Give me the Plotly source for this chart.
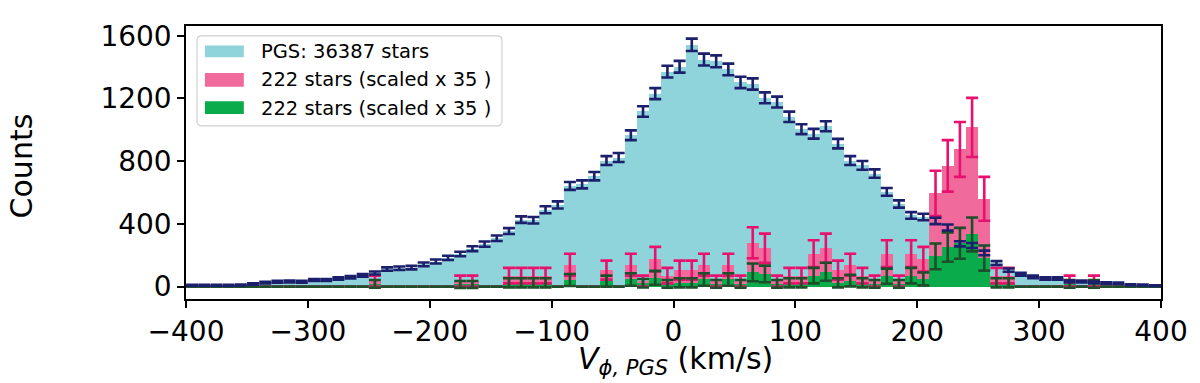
import numpy as np
import plotly.graph_objects as go

# histogram bins (km/s)
bin_lo = list(range(-400, 400, 10))
bin_width = 10
scale = 35

# PGS counts per bin, -400 .. 390
pgs_counts = [
    8, 8, 9, 9, 10, 17, 25, 31, 33, 31,
    42, 42, 52, 60, 71, 87, 112, 117, 121, 142,
    160, 183, 208, 242, 271, 308, 354, 427, 423, 490,
    521, 642, 652, 704, 804, 823, 965, 1117, 1231, 1371,
    1402, 1542, 1448, 1437, 1385, 1302, 1292, 1204, 1177, 1083,
    1004, 975, 1023, 912, 804, 773, 721, 604, 527, 454,
    444, 419, 377, 273, 262, 215, 150, 105, 79, 62,
    52, 52, 33, 33, 27, 23, 21, 12, 10, 6,
]

# subsample (pink), raw star counts per bin
pink_counts = [
    0, 0, 0, 0, 0, 0, 0, 0, 0, 0,
    0, 0, 0, 0, 0, 1, 0, 0, 0, 0,
    0, 0, 1, 1, 0, 0, 2, 2, 2, 2,
    0, 4, 0, 0, 3, 0, 4, 1, 5, 2,
    3, 3, 4, 1, 4, 1, 8, 7, 1, 2,
    2, 6, 7, 3, 4, 2, 1, 6, 1, 6,
    5, 17, 22, 25, 29, 16, 2, 2, 0, 0,
    0, 0, 1, 0, 1, 0, 0, 0, 0, 0,
]

# subsample (green), weighted counts per bin
green_counts = [
    0, 0, 0, 0, 0, 0, 0, 0, 0, 0,
    0, 0, 0, 0, 0, 0.5, 0, 0, 0, 0,
    0, 0, 0.4, 0.4, 0, 0, 0.7, 0.7, 0.7, 0.7,
    0, 1.2, 0, 0, 1.0, 0, 1.3, 0.6, 1.6, 0.5,
    0.7, 0.7, 1.3, 0.5, 1.3, 0.5, 2.6, 2.3, 0.5, 0.7,
    0.7, 2.0, 2.7, 0.7, 1.1, 0.7, 0.5, 1.9, 0.5, 2.0,
    1.4, 5.5, 7.2, 7.9, 9.5, 5.2, 0.7, 0.7, 0, 0,
    0, 0, 0.5, 0, 0.5, 0, 0, 0, 0, 0,
]

legend_labels = ["PGS: 36387 stars", "222 stars (scaled x 35 )", "222 stars (scaled x 35 )"]

centers = np.array(bin_lo) + bin_width / 2
pgs = np.array(pgs_counts, dtype=float)
pink = np.array(pink_counts, dtype=float) * scale
green = np.array(green_counts, dtype=float) * scale
pgs_err = np.sqrt(pgs)
pink_err = np.sqrt(np.array(pink_counts, dtype=float)) * scale
green_err = np.sqrt(np.array(green_counts, dtype=float)) * scale

cyan = "#8fd4db"
pinkc = "#f06b9c"
greenc = "#0aab4b"
navy = "#1c1f6b"
pink_dark = "#e8126e"
green_dark = "#1d4f2a"

fig = go.Figure()
for vals, col in [(pgs, cyan), (pink, pinkc), (green, greenc)]:
    fig.add_trace(go.Bar(x=centers, y=vals, width=bin_width, marker=dict(color=col, line=dict(width=0)),
                         showlegend=False, hoverinfo="skip"))

# error bars on top of all bars
for vals, err, col in [(pink, pink_err, pink_dark), (green, green_err, green_dark), (pgs, pgs_err, navy)]:
    fig.add_trace(go.Scatter(x=centers, y=vals, mode="markers", marker=dict(size=0.1, opacity=0),
                             error_y=dict(type="data", array=err, color=col, thickness=2.6, width=6),
                             showlegend=False, hoverinfo="skip"))

# the page body has an 8px margin, so the figure sits at (8, 8) in the 1200x383 window
OFF = 8
W, H = 1200 - OFF, 383 - OFF
# plot area in window pixels: x 186..1164, y 20..299
L, R, T, B = 186, 1164, 20, 299
def px(x):
    return (x - L) / (R - L)
def py(y):
    return (B - y) / (B - T)

shapes = []
# legend frame with rounded corners
x0, x1, y0, y1, r = px(197), px(503), py(30), py(122), 5
rx, ry = r / (R - L), r / (B - T)
path = (f"M {x0+rx},{y0} L {x1-rx},{y0} Q {x1},{y0} {x1},{y0-ry} L {x1},{y1+ry} Q {x1},{y1} {x1-rx},{y1} "
        f"L {x0+rx},{y1} Q {x0},{y1} {x0},{y1+ry} L {x0},{y0-ry} Q {x0},{y0} {x0+rx},{y0} Z")
shapes.append(dict(type="path", xref="paper", yref="paper", path=path,
                   fillcolor="rgba(255,255,255,0.85)", line=dict(color="#d0d0d0", width=1.2)))
annotations = []
rows = [(40, 52, 46), (68, 82, 75), (97, 110, 104)]
for (ya, yb, yc), col, lab in zip(rows, [cyan, pinkc, greenc], legend_labels):
    shapes.append(dict(type="rect", xref="paper", yref="paper", x0=px(205), x1=px(244), y0=py(yb), y1=py(ya),
                       fillcolor=col, line=dict(width=0)))
    annotations.append(dict(x=px(259), y=py(yc), xref="paper", yref="paper", text=lab, showarrow=False,
                            xanchor="left", yanchor="middle", font=dict(size=19.5, color="black")))

annotations.append(dict(x=px(21), y=py(163), xref="paper", yref="paper", text="Counts", textangle=-90,
                        showarrow=False, xanchor="center", yanchor="middle", borderpad=0,
                        font=dict(size=30, color="black")))
annotations.append(dict(x=px(677), y=py(383), xref="paper", yref="paper",
                        text="<i>V</i><sub><i>\u03d5, PGS</i></sub> (km/s)", borderpad=0,
                        showarrow=False, xanchor="center", yanchor="bottom", font=dict(size=30, color="black")))

fig.update_layout(
    width=W, height=H,
    margin=dict(l=L - OFF, r=1200 - R, t=T - OFF, b=383 - B),
    paper_bgcolor="white", plot_bgcolor="white",
    barmode="overlay", bargap=0,
    font=dict(family="DejaVu Sans", color="black"),
    shapes=shapes, annotations=annotations,
    xaxis=dict(range=[-400, 400], tickvals=list(range(-400, 401, 100)), showgrid=False, zeroline=False,
               showline=True, linecolor="black", linewidth=1.5, mirror=True,
               ticks="outside", ticklen=7, tickwidth=1.5, tickcolor="black", tickfont=dict(size=28)),
    yaxis=dict(range=[-79, 1662], tickvals=[0, 400, 800, 1200, 1600], showgrid=False, zeroline=False,
               showline=True, linecolor="black", linewidth=1.5, mirror=True,
               ticks="outside", ticklen=7, tickwidth=1.5, tickcolor="black", tickfont=dict(size=28)),
)

fig.write_html("out.html")
